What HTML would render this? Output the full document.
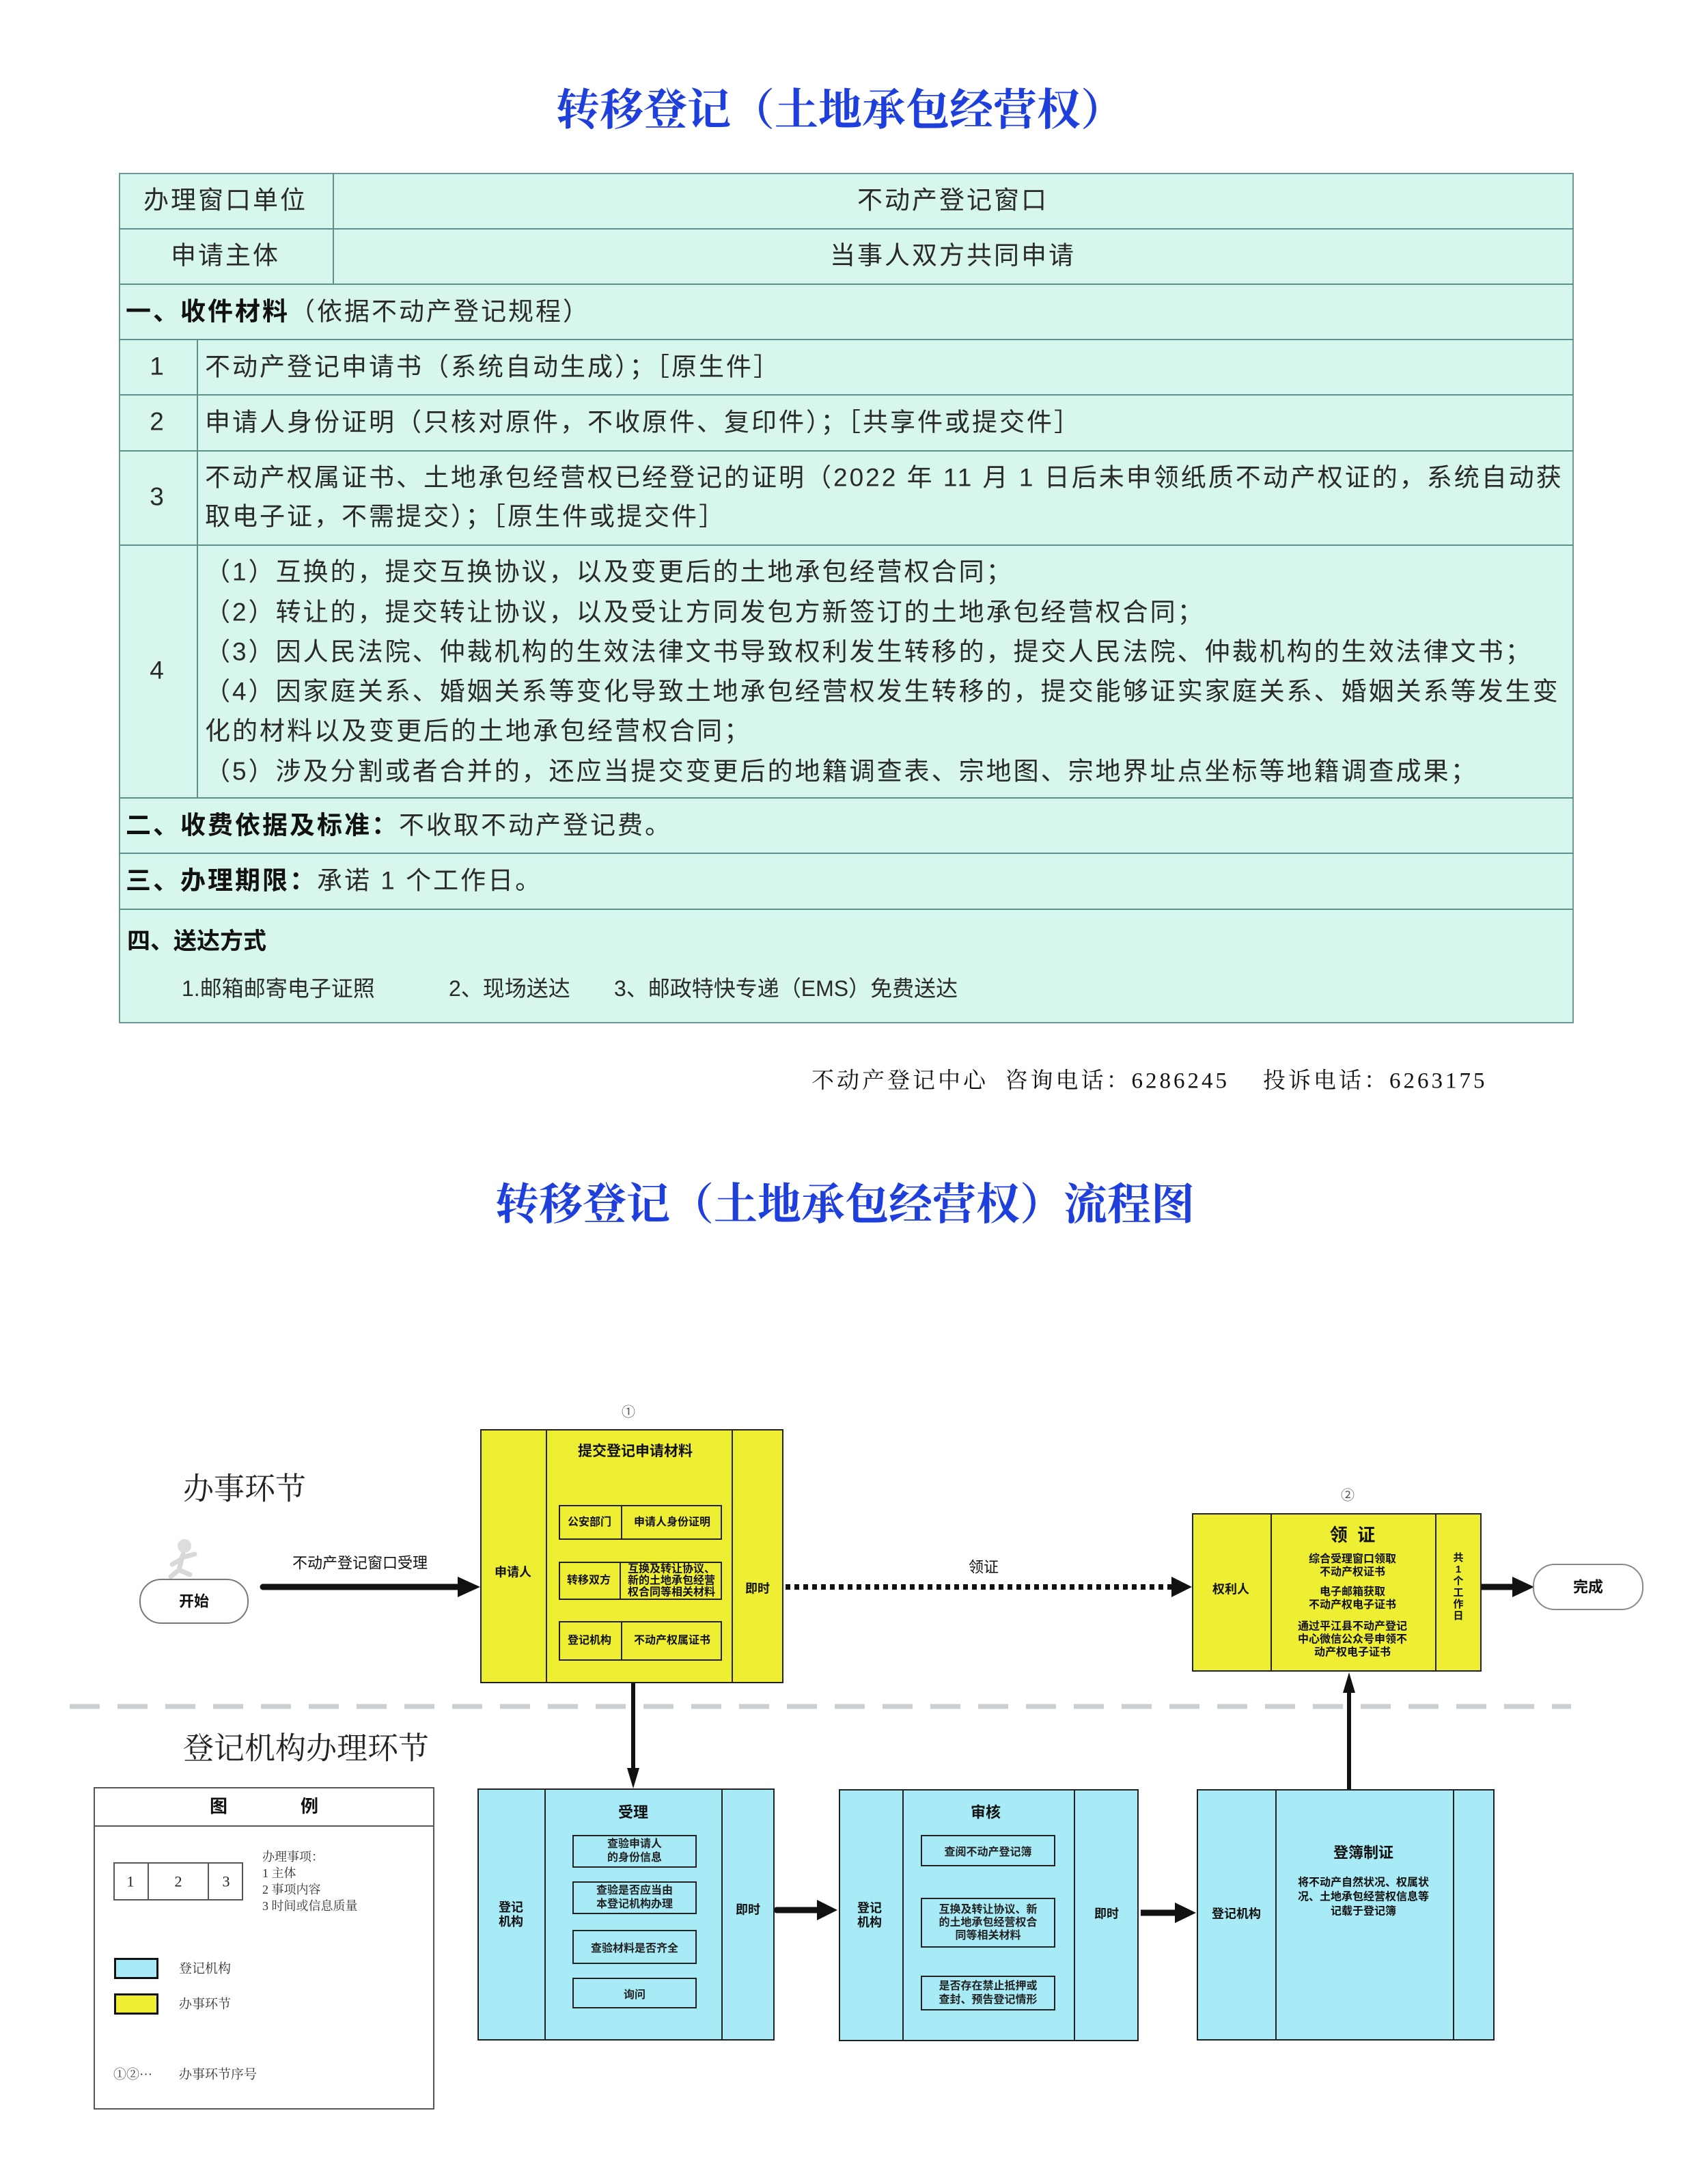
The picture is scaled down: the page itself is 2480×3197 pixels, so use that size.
<!DOCTYPE html>
<html><head><meta charset="utf-8">
<style>
body{margin:0;width:2480px;height:3197px;background:#fff;position:relative;overflow:hidden;font-family:"Liberation Sans","Noto Sans CJK SC",sans-serif;color:#222}
.a{position:absolute}
.t{position:absolute;white-space:nowrap;transform:translate(-50%,-50%);line-height:1.15;text-align:center}
.l{position:absolute;white-space:nowrap;transform:translateY(-50%);line-height:1}
.hl{position:absolute;height:2px;background:#5f8f8d}
.vl{position:absolute;width:2px;background:#5f8f8d}
.tb{font-size:37px;color:#2a2a2a;letter-spacing:3px}
.bx{position:absolute;border:2px solid #222;box-sizing:border-box}
.y{background:#eeee33}
.b{background:#a8ebf6}
.fb{font-weight:bold;color:#111}
</style></head><body>

<div class="t" style="left:1230px;top:157px;font-size:64px;font-weight:bold;color:#1e3fdc;font-family:'Noto Serif CJK SC',serif">转移登记（土地承包经营权）</div>

<div class="a" style="left:174px;top:253px;width:2130px;height:1245px;background:#d6f6ee;border:2px solid #6a9a98;box-sizing:border-box"></div>
<div class="hl" style="left:174px;width:2130px;top:334px"></div>
<div class="hl" style="left:174px;width:2130px;top:415px"></div>
<div class="hl" style="left:174px;width:2130px;top:496px"></div>
<div class="hl" style="left:174px;width:2130px;top:577px"></div>
<div class="hl" style="left:174px;width:2130px;top:659px"></div>
<div class="hl" style="left:174px;width:2130px;top:797px"></div>
<div class="hl" style="left:174px;width:2130px;top:1167px"></div>
<div class="hl" style="left:174px;width:2130px;top:1248px"></div>
<div class="hl" style="left:174px;width:2130px;top:1330px"></div>
<div class="vl" style="left:487px;top:253px;height:162px"></div>
<div class="vl" style="left:288px;top:496px;height:671px"></div>

<div class="t tb" style="left:330px;top:294px">办理窗口单位</div>
<div class="t tb" style="left:1395px;top:294px">不动产登记窗口</div>
<div class="t tb" style="left:330px;top:375px">申请主体</div>
<div class="t tb" style="left:1395px;top:375px">当事人双方共同申请</div>
<div class="l tb" style="left:184px;top:456px"><b style="color:#111">一、收件材料</b>（依据不动产登记规程）</div>
<div class="t tb" style="left:231px;top:537px">1</div>
<div class="l tb" style="left:300px;top:537px">不动产登记申请书（系统自动生成）；［原生件］</div>
<div class="t tb" style="left:231px;top:618px">2</div>
<div class="l tb" style="left:300px;top:618px">申请人身份证明（只核对原件，不收原件、复印件）；［共享件或提交件］</div>
<div class="t tb" style="left:231px;top:728px">3</div>
<div class="l tb" style="left:300px;top:699px">不动产权属证书、土地承包经营权已经登记的证明（2022 年 11 月 1 日后未申领纸质不动产权证的，系统自动获</div>
<div class="l tb" style="left:300px;top:756px">取电子证，不需提交）；［原生件或提交件］</div>
<div class="t tb" style="left:231px;top:982px">4</div>
<div class="l tb" style="left:300px;top:837px">（1）互换的，提交互换协议，以及变更后的土地承包经营权合同；</div>
<div class="l tb" style="left:300px;top:896px">（2）转让的，提交转让协议，以及受让方同发包方新签订的土地承包经营权合同；</div>
<div class="l tb" style="left:300px;top:954px">（3）因人民法院、仲裁机构的生效法律文书导致权利发生转移的，提交人民法院、仲裁机构的生效法律文书；</div>
<div class="l tb" style="left:300px;top:1012px">（4）因家庭关系、婚姻关系等变化导致土地承包经营权发生转移的，提交能够证实家庭关系、婚姻关系等发生变</div>
<div class="l tb" style="left:300px;top:1070px">化的材料以及变更后的土地承包经营权合同；</div>
<div class="l tb" style="left:300px;top:1129px">（5）涉及分割或者合并的，还应当提交变更后的地籍调查表、宗地图、宗地界址点坐标等地籍调查成果；</div>
<div class="l tb" style="left:184px;top:1208px"><b style="color:#111">二、收费依据及标准：</b>不收取不动产登记费。</div>
<div class="l tb" style="left:184px;top:1289px"><b style="color:#111">三、办理期限：</b>承诺 1 个工作日。</div>
<div class="l" style="left:186px;top:1378px;font-size:34px;font-weight:bold;color:#111">四、送达方式</div>
<div class="l" style="left:266px;top:1447px;font-size:32px;color:#2a2a2a">1.邮箱邮寄电子证照</div>
<div class="l" style="left:657px;top:1447px;font-size:32px;color:#2a2a2a">2、现场送达</div>
<div class="l" style="left:899px;top:1447px;font-size:32px;color:#2a2a2a">3、邮政特快专递（EMS）免费送达</div>

<div class="l" style="left:1188px;top:1583px;font-size:33px;color:#111;font-family:'Liberation Serif','Noto Serif CJK SC',serif;letter-spacing:4px">不动产登记中心&nbsp; 咨询电话：6286245&nbsp;&nbsp;&nbsp; 投诉电话：6263175</div>

<div class="t" style="left:1237px;top:1759px;font-size:64px;font-weight:bold;color:#1e3fdc;font-family:'Noto Serif CJK SC',serif">转移登记（土地承包经营权）流程图</div>

<div class="l" style="left:268px;top:2180px;font-size:45px;color:#222;font-family:'Liberation Serif','Noto Serif CJK SC',serif">办事环节</div>
<div class="l" style="left:268px;top:2560px;font-size:45px;color:#222;font-family:'Liberation Serif','Noto Serif CJK SC',serif">登记机构办理环节</div>

<svg class="a" style="left:0;top:0" width="2480" height="3197">
  <line x1="102" y1="2498" x2="2300" y2="2498" stroke="#c9ced2" stroke-width="7" stroke-dasharray="44 26"/>
  <line x1="385" y1="2323" x2="672" y2="2323" stroke="#111" stroke-width="9" stroke-linecap="round"/>
  <polygon points="670,2308 703,2323 670,2338" fill="#111"/>
  <line x1="1150" y1="2323" x2="1718" y2="2323" stroke="#111" stroke-width="8" stroke-dasharray="7 6"/>
  <polygon points="1715,2308 1745,2323 1715,2338" fill="#111"/>
  <line x1="2169" y1="2323" x2="2218" y2="2323" stroke="#111" stroke-width="9"/>
  <polygon points="2214,2308 2246,2323 2214,2338" fill="#111"/>
  <line x1="927" y1="2464" x2="927" y2="2590" stroke="#111" stroke-width="6"/>
  <polygon points="918,2588 927,2618 936,2588" fill="#111"/>
  <line x1="1137" y1="2796" x2="1200" y2="2796" stroke="#111" stroke-width="9" stroke-linecap="round"/>
  <polygon points="1196,2781 1226,2796 1196,2811" fill="#111"/>
  <line x1="1670" y1="2800" x2="1724" y2="2800" stroke="#111" stroke-width="9"/>
  <polygon points="1720,2785 1751,2800 1720,2815" fill="#111"/>
  <line x1="1975" y1="2619" x2="1975" y2="2475" stroke="#111" stroke-width="6"/>
  <polygon points="1966,2478 1975,2448 1984,2478" fill="#111"/>
  <circle cx="270" cy="2263" r="10" fill="#ddd"/>
  <path d="M268 2275 L262 2298 L250 2308 M262 2298 L278 2305 M266 2280 L285 2275 M266 2282 L252 2290" stroke="#d8d8d8" stroke-width="7" fill="none" stroke-linecap="round"/>
</svg>

<div class="t" style="left:284px;top:2344px;width:156px;height:62px;border:2px solid #777;border-radius:32px;transform:translate(-50%,-50%)"></div>
<div class="t fb" style="left:284px;top:2344px;font-size:22px">开始</div>
<div class="t" style="left:527px;top:2288px;font-size:22px;color:#111">不动产登记窗口受理</div>
<div class="t" style="left:1440px;top:2294px;font-size:22px;color:#111">领证</div>

<div class="t" style="left:2325px;top:2323px;width:158px;height:64px;border:2px solid #888;border-radius:32px;transform:translate(-50%,-50%)"></div>
<div class="t fb" style="left:2325px;top:2323px;font-size:22px">完成</div>

<div class="t" style="left:920px;top:2068px;font-size:20px;color:#555">①</div>
<div class="bx y" style="left:703px;top:2092px;width:444px;height:372px"></div>
<div class="vl" style="left:799px;top:2092px;height:372px;background:#222"></div>
<div class="vl" style="left:1071px;top:2092px;height:372px;background:#222"></div>
<div class="t fb" style="left:930px;top:2125px;font-size:21px">提交登记申请材料</div>
<div class="t fb" style="left:751px;top:2302px;font-size:18px">申请人</div>
<div class="t fb" style="left:1109px;top:2326px;font-size:18px">即时</div>
<div class="bx" style="left:818px;top:2203px;width:239px;height:51px"></div>
<div class="bx" style="left:818px;top:2286px;width:239px;height:56px"></div>
<div class="bx" style="left:818px;top:2373px;width:239px;height:58px"></div>
<div class="vl" style="left:909px;top:2203px;height:51px;background:#222"></div>
<div class="vl" style="left:907px;top:2286px;height:56px;background:#222"></div>
<div class="vl" style="left:909px;top:2373px;height:58px;background:#222"></div>
<div class="t fb" style="left:863px;top:2229px;font-size:16px">公安部门</div>
<div class="t fb" style="left:984px;top:2229px;font-size:16px">申请人身份证明</div>
<div class="t fb" style="left:862px;top:2314px;font-size:16px">转移双方</div>
<div class="t fb" style="left:983px;top:2314px;font-size:16px;line-height:17px">互换及转让协议、<br>新的土地承包经营<br>权合同等相关材料</div>
<div class="t fb" style="left:863px;top:2402px;font-size:16px">登记机构</div>
<div class="t fb" style="left:984px;top:2402px;font-size:16px">不动产权属证书</div>

<div class="t" style="left:1973px;top:2190px;font-size:20px;color:#555">②</div>
<div class="bx y" style="left:1745px;top:2215px;width:424px;height:232px"></div>
<div class="vl" style="left:1860px;top:2215px;height:232px;background:#222"></div>
<div class="vl" style="left:2101px;top:2215px;height:232px;background:#222"></div>
<div class="t fb" style="left:1802px;top:2327px;font-size:18px">权利人</div>
<div class="t fb" style="left:1980px;top:2248px;font-size:26px">领&nbsp;&nbsp;证</div>
<div class="t fb" style="left:1980px;top:2292px;font-size:16px;line-height:19px">综合受理窗口领取<br>不动产权证书</div>
<div class="t fb" style="left:1980px;top:2340px;font-size:16px;line-height:19px">电子邮箱获取<br>不动产权电子证书</div>
<div class="t fb" style="left:1980px;top:2400px;font-size:16px;line-height:19px">通过平江县不动产登记<br>中心微信公众号申领不<br>动产权电子证书</div>
<div class="t fb" style="left:2135px;top:2323px;font-size:15px;line-height:17px">共<br>1<br>个<br>工<br>作<br>日</div>

<div class="bx b" style="left:699px;top:2618px;width:435px;height:369px"></div>
<div class="vl" style="left:797px;top:2618px;height:369px;background:#222"></div>
<div class="vl" style="left:1056px;top:2618px;height:369px;background:#222"></div>
<div class="t fb" style="left:927px;top:2653px;font-size:22px">受理</div>
<div class="t fb" style="left:748px;top:2803px;font-size:18px;line-height:21px">登记<br>机构</div>
<div class="t fb" style="left:1095px;top:2796px;font-size:18px">即时</div>
<div class="bx" style="left:838px;top:2686px;width:182px;height:48px;display:flex;align-items:center;justify-content:center;font-size:16px;font-weight:bold;line-height:20px;text-align:center">查验申请人<br>的身份信息</div>
<div class="bx" style="left:838px;top:2754px;width:182px;height:48px;display:flex;align-items:center;justify-content:center;font-size:16px;font-weight:bold;line-height:20px;text-align:center">查验是否应当由<br>本登记机构办理</div>
<div class="bx" style="left:838px;top:2825px;width:182px;height:50px;display:flex;align-items:center;justify-content:center;font-size:16px;font-weight:bold">查验材料是否齐全</div>
<div class="bx" style="left:838px;top:2895px;width:182px;height:45px;display:flex;align-items:center;justify-content:center;font-size:16px;font-weight:bold">询问</div>

<div class="bx b" style="left:1228px;top:2619px;width:439px;height:369px"></div>
<div class="vl" style="left:1321px;top:2619px;height:369px;background:#222"></div>
<div class="vl" style="left:1572px;top:2619px;height:369px;background:#222"></div>
<div class="t fb" style="left:1443px;top:2653px;font-size:22px">审核</div>
<div class="t fb" style="left:1273px;top:2804px;font-size:18px;line-height:21px">登记<br>机构</div>
<div class="t fb" style="left:1620px;top:2802px;font-size:18px">即时</div>
<div class="bx" style="left:1348px;top:2686px;width:197px;height:46px;display:flex;align-items:center;justify-content:center;font-size:16px;font-weight:bold">查阅不动产登记簿</div>
<div class="bx" style="left:1348px;top:2778px;width:197px;height:73px;display:flex;align-items:center;justify-content:center;font-size:16px;font-weight:bold;line-height:19px;text-align:center">互换及转让协议、新<br>的土地承包经营权合<br>同等相关材料</div>
<div class="bx" style="left:1348px;top:2892px;width:197px;height:51px;display:flex;align-items:center;justify-content:center;font-size:16px;font-weight:bold;line-height:20px;text-align:center">是否存在禁止抵押或<br>查封、预告登记情形</div>

<div class="bx b" style="left:1752px;top:2619px;width:436px;height:368px"></div>
<div class="vl" style="left:1867px;top:2619px;height:368px;background:#222"></div>
<div class="vl" style="left:2127px;top:2619px;height:368px;background:#222"></div>
<div class="t fb" style="left:1996px;top:2712px;font-size:22px">登簿制证</div>
<div class="t fb" style="left:1996px;top:2777px;font-size:16px;line-height:21px">将不动产自然状况、权属状<br>况、土地承包经营权信息等<br>记载于登记簿</div>
<div class="t fb" style="left:1810px;top:2802px;font-size:18px">登记机构</div>

<div class="a" style="left:137px;top:2616px;width:499px;height:472px;border:2px solid #555;box-sizing:border-box"></div>
<div class="a" style="left:137px;top:2672px;width:499px;height:2px;background:#555"></div>
<div class="t fb" style="left:320px;top:2645px;font-size:26px">图</div>
<div class="t fb" style="left:453px;top:2645px;font-size:26px">例</div>
<div class="a" style="left:166px;top:2726px;width:190px;height:56px;border:2px solid #555;box-sizing:border-box"></div>
<div class="a" style="left:216px;top:2726px;width:2px;height:56px;background:#555"></div>
<div class="a" style="left:304px;top:2726px;width:2px;height:56px;background:#555"></div>
<div class="t" style="left:191px;top:2754px;font-size:22px;font-family:'Liberation Serif',serif">1</div>
<div class="t" style="left:261px;top:2754px;font-size:22px;font-family:'Liberation Serif',serif">2</div>
<div class="t" style="left:331px;top:2754px;font-size:22px;font-family:'Liberation Serif',serif">3</div>
<div class="a" style="left:384px;top:2706px;font-size:18px;line-height:24px;color:#333;font-family:'Liberation Serif','Noto Serif CJK SC',serif">办理事项：<br>1 主体<br>2 事项内容<br>3 时间或信息质量</div>
<div class="a b" style="left:167px;top:2866px;width:65px;height:31px;border:3px solid #111;box-sizing:border-box"></div>
<div class="a y" style="left:167px;top:2918px;width:65px;height:31px;border:3px solid #111;box-sizing:border-box"></div>
<div class="l" style="left:262px;top:2882px;font-size:19px;color:#333;font-family:'Liberation Serif','Noto Serif CJK SC',serif">登记机构</div>
<div class="l" style="left:262px;top:2934px;font-size:19px;color:#333;font-family:'Liberation Serif','Noto Serif CJK SC',serif">办事环节</div>
<div class="l" style="left:166px;top:3037px;font-size:19px;color:#333;font-family:'Liberation Serif','Noto Serif CJK SC',serif">①②···</div>
<div class="l" style="left:262px;top:3037px;font-size:19px;color:#333;font-family:'Liberation Serif','Noto Serif CJK SC',serif">办事环节序号</div>

</body></html>
